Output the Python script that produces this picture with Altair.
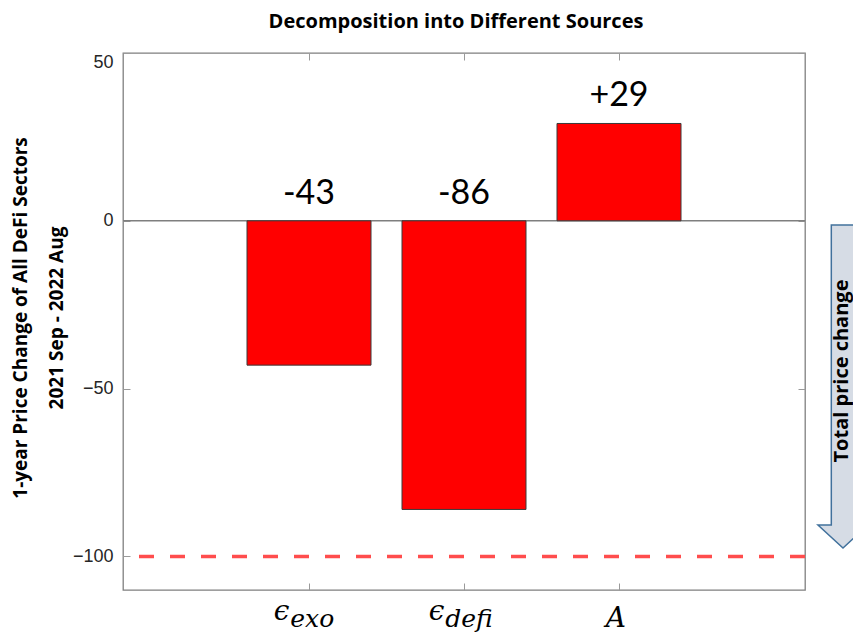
import altair as alt
import pandas as pd

# ---- data ----
categories = ["exo", "defi", "A"]
positions = [1, 2, 3]
values = [-43, -86, 29]
value_labels = ["-43", "-86", "+29"]
symbols = ["\u03f5", "\u03f5", "A"]
subscripts = ["exo", "defi", ""]
y_ticks = [50, 0, -50, -100]
x_domain = [-0.2, 4.2]
y_domain = [-110, 50]
reference_level = [-100]
zero_level = [0]
title_text = ["Decomposition into Different Sources"]
y_title_lines = ["1-year Price Change of All DeFi Sectors", "2021 Sep - 2022 Aug"]
arrow_text = ["Total price change"]

W, H = 682, 537

df = pd.DataFrame({
    "cat": categories,
    "pos": positions,
    "value": values,
    "vlabel": value_labels,
    "sym": symbols,
    "sub": subscripts,
})

xs = alt.Scale(domain=x_domain, nice=False, zero=False)
ys = alt.Scale(domain=y_domain, nice=False, zero=False)

tick_color = "#9a9a9a"

bars = alt.Chart(df).transform_calculate(
    x0="datum.pos - 0.4", x1="datum.pos + 0.4"
).mark_bar(color="#ff0000", stroke="#3a3a3a", strokeWidth=1).encode(
    x=alt.X("x0:Q", scale=xs, axis=alt.Axis(
        orient="bottom", values=positions, labels=False, tickSize=7, offset=-7,
        domain=False, grid=False, tickColor=tick_color, title=None)),
    x2="x1:Q",
    y=alt.Y("value:Q", scale=ys, axis=alt.Axis(
        orient="left", values=y_ticks, tickSize=7, offset=-7, labelPadding=10,
        domain=False, grid=False, tickColor=tick_color, title=None,
        labelFlush=True, labelFlushOffset=0)),
    y2=alt.datum(0),
)

ghost = alt.Chart(df).mark_point(opacity=0).encode(
    x=alt.X("pos:Q", scale=xs, axis=alt.Axis(
        orient="top", values=positions, labels=False, tickSize=7, offset=-7,
        domain=False, grid=False, tickColor=tick_color, title=None)),
    y=alt.Y("value:Q", scale=ys, axis=alt.Axis(
        orient="right", values=y_ticks, labels=False, tickSize=7, offset=-7,
        domain=False, grid=False, tickColor=tick_color, title=None)),
)

zero_rule = alt.Chart(pd.DataFrame({"y": zero_level})).mark_rule(
    color="#7f7f7f", strokeWidth=1.5
).encode(y=alt.Y("y:Q", scale=ys, axis=None))

ref_rule = alt.Chart(pd.DataFrame({"y": reference_level})).mark_rule(
    color="#ff4d4d", strokeWidth=3.5, strokeDash=[15, 16]
).encode(y=alt.Y("y:Q", scale=ys, axis=None))

value_text = alt.Chart(df).transform_calculate(
    ly="max(datum.value, 0)"
).mark_text(font="Lato", fontSize=34, baseline="alphabetic", dy=-17, color="black").encode(
    x=alt.X("pos:Q", scale=xs, axis=None),
    y=alt.Y("ly:Q", scale=ys, axis=None),
    text="vlabel:N",
)

sym_text = alt.Chart(df).transform_calculate(
    sx="datum.sub == '' ? datum.pos + 0.045 : datum.pos - 0.127",
    sy=f"datum.sub == '' ? {H + 37} : {H + 30}",
).mark_text(font="DejaVu Serif", fontStyle="italic", fontSize=28, align="right",
            baseline="alphabetic", color="black").encode(
    x=alt.X("sx:Q", scale=xs, axis=None),
    y=alt.Y("sy:Q", scale=None, axis=None),
    text="sym:N",
)

sub_text = alt.Chart(df).transform_calculate(
    sx="datum.pos - 0.127",
).mark_text(font="DejaVu Serif", fontStyle="italic", fontSize=25, align="left",
            baseline="alphabetic", dx=1, color="black").encode(
    x=alt.X("sx:Q", scale=xs, axis=None),
    y=alt.value(H + 37),
    text="sub:N",
)

title_mark = alt.Chart(pd.DataFrame({"t": title_text})).mark_text(
    font="Open Sans", fontWeight="bold", fontSize=20, baseline="middle", color="black"
).encode(x=alt.value(W / 2 - 8), y=alt.value(-31), text="t:N")

ytitle1 = alt.Chart(pd.DataFrame({"t": [y_title_lines[0]]})).mark_text(
    font="Open Sans", fontWeight="bold", fontSize=19, angle=270, baseline="middle", color="black"
).encode(x=alt.value(-102), y=alt.value(265), text="t:N")

ytitle2 = alt.Chart(pd.DataFrame({"t": [y_title_lines[1]]})).mark_text(
    font="Open Sans", fontWeight="bold", fontSize=19, angle=270, baseline="middle", color="black"
).encode(x=alt.value(-66), y=alt.value(265), text="t:N")

arrow_path = ("M -0.0724 -1 L 0.0724 -1 L 0.0724 0.858 L 0.155 0.858 L 0 1 "
              "L -0.155 0.858 L -0.0724 0.858 Z")
arrow = alt.Chart(pd.DataFrame({"t": arrow_text})).mark_point(
    shape=arrow_path, size=323 * 323, filled=True, fill="#d6dce5", fillOpacity=1,
    stroke="#41719c", strokeWidth=1.5, opacity=1
).encode(x=alt.value(W + 38), y=alt.value(333.5))

arrow_label = alt.Chart(pd.DataFrame({"t": arrow_text})).mark_text(
    font="Open Sans", fontWeight="bold", fontSize=20, angle=270, baseline="middle", color="black"
).encode(x=alt.value(W + 37), y=alt.value(318), text="t:N")

chart = alt.layer(
    zero_rule, bars, ghost, ref_rule, value_text, sym_text, sub_text,
    title_mark, ytitle1, ytitle2, arrow, arrow_label
).resolve_axis(x="independent", y="independent").properties(
    width=W, height=H,
    autosize=alt.AutoSizeParams(type="none"),
    padding={"left": 115, "top": 45, "right": 48, "bottom": 46},
).configure_view(
    stroke="#7f7f7f", strokeWidth=1.3
).configure_axis(
    labelFont="Liberation Sans", labelFontSize=18, labelColor="#262626"
)

chart.save("out.html", embed_options={"renderer": "svg", "actions": False})
